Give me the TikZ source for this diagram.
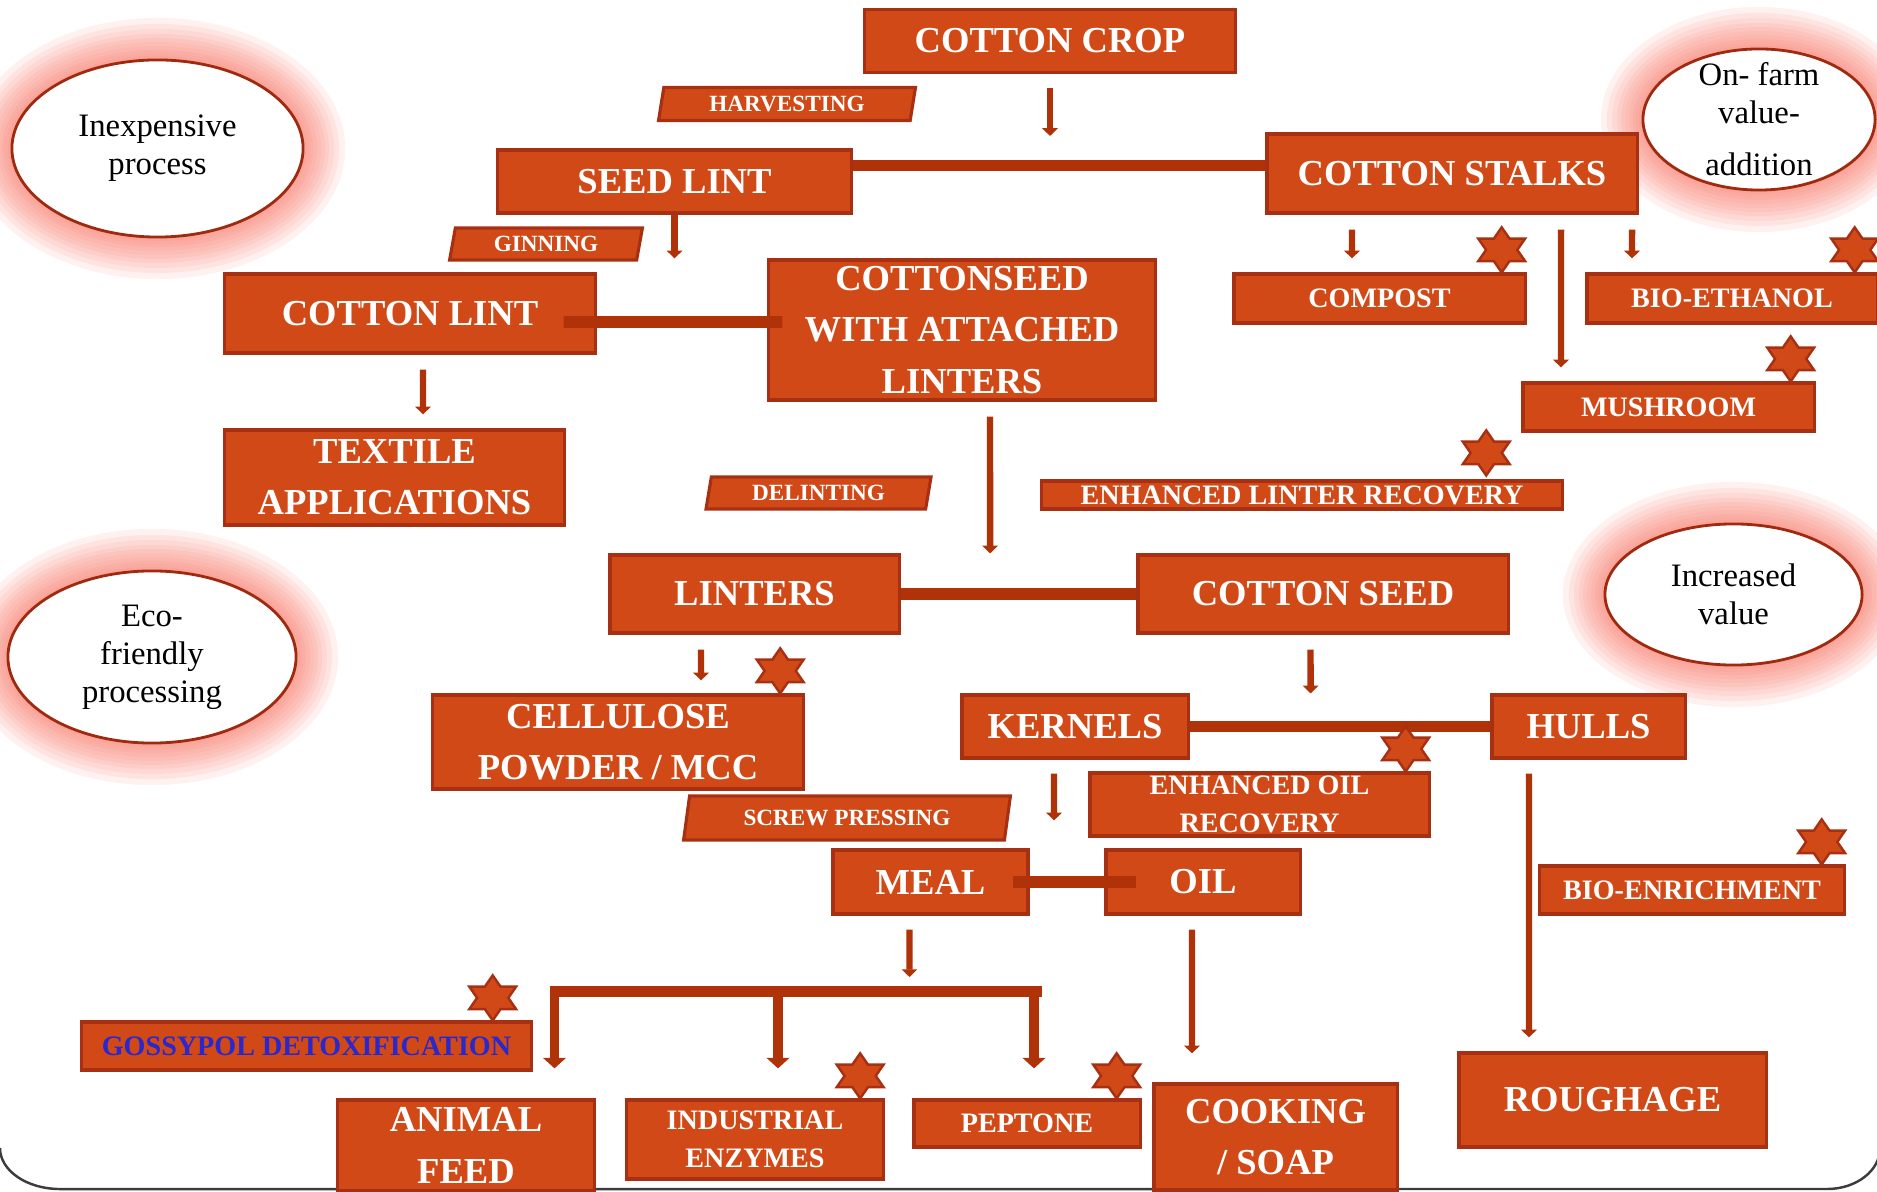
\documentclass[tikz,border=0pt]{standalone}
\usepackage{fontspec}
\setmainfont{Liberation Serif}
\usetikzlibrary{arrows.meta,shapes.geometric,positioning}

\definecolor{boxfill}{RGB}{210,73,24}
\definecolor{boxedge}{RGB}{168,48,18}
\definecolor{linkred}{RGB}{176,50,8}
\definecolor{bubbleedge}{RGB}{160,42,16}
\definecolor{halopink}{RGB}{247,124,109}
\definecolor{gossyblue}{RGB}{40,40,205}
\definecolor{framegray}{RGB}{60,60,60}

% soft pink glow behind a bubble: centre x, centre y, x radius, y radius (px)
\newcommand{\glowring}[4]{%
  \foreach \d in {42,36,31,26,22,18,14,10,7,4}{%
    \pgfmathsetmacro{\hrx}{(#3+\d)/100}%
    \pgfmathsetmacro{\hry}{(#4+\d)/100}%
    \fill[halopink,opacity=0.11] (#1,#2) ellipse ({\hrx cm} and {\hry cm});%
  }}

\begin{document}
\begin{tikzpicture}[
    x=0.01cm,y=-0.01cm,
    bigbox/.style={rectangle,draw=boxedge,fill=boxfill,line width=0.9pt,text=white,inner sep=0pt,align=center,font=\bfseries\fontsize{10.4pt}{14.6pt}\selectfont},
    midbox/.style={bigbox,font=\bfseries\fontsize{8pt}{10.8pt}\selectfont},
    stepbox/.style={trapezium,trapezium left angle=78,trapezium right angle=102,trapezium stretches=true,draw=boxedge,fill=boxfill,line width=0.9pt,text=white,inner sep=0pt,font=\bfseries\fontsize{6.6pt}{8pt}\selectfont},
    bubble/.style={ellipse,draw=bubbleedge,fill=white,line width=0.8pt,inner sep=-12pt,align=center,font=\fontsize{9.3pt}{10.8pt}\selectfont},
    bar/.style={draw=linkred,line width=3.4pt},
    arrow/.style={draw=linkred,line width=1.8pt,-{Triangle[width=4.4pt,length=2.2pt]}},
    branch/.style={draw=linkred,line width=2.6pt,-{Triangle[width=6.4pt,length=3pt]}},
    hexstar/.pic={
        \filldraw[fill=boxfill,draw=boxedge,line width=0.7pt,xscale=1.2,shift={(0,0.225cm)}]
            (90:0.225cm) \foreach \a in {60,0,-60,-120,-180,-240}{ -- ({\a}:0.13cm) -- ({\a-30}:0.225cm) } -- cycle;
    }
]
    \useasboundingbox (0,0) rectangle (1877,1192);
    \clip (0,0) rectangle (1877,1192);

    % Glowing bubbles
    \glowring{157.5}{148.5}{145.5}{88.5}
    \glowring{1759}{119.5}{116}{70.5}
    \glowring{152}{657}{144}{86}
    \glowring{1733.5}{594.5}{128.5}{70.5}
    \node[bubble,minimum width=2.91cm,minimum height=1.77cm] (cheap) at (157.5,148.5) {Inexpensive\\process};
    \node[bubble,minimum width=2.32cm,minimum height=1.41cm] (onfarm) at (1759,119.5) {On- farm\\value-\\[4pt]addition};
    \node[bubble,minimum width=2.88cm,minimum height=1.72cm] (eco) at (152,657) {Eco-\\friendly\\processing};
    \node[bubble,minimum width=2.57cm,minimum height=1.41cm] (gain) at (1733.5,594.5) {Increased\\value};

    % Slide frame
    \draw[framegray,line width=0.7pt] (0,1148) arc[start angle=180,end angle=270,x radius=0.6cm,y radius=0.41cm]
        -- (1827,1189) arc[start angle=270,end angle=360,x radius=0.53cm,y radius=0.41cm];

    % Top: crop and first split
    \node[bigbox,minimum width=3.70cm,minimum height=0.63cm] (crop) at (1050,41) {COTTON CROP};
    \node[stepbox,minimum width=2.57cm,minimum height=0.33cm] (harvest) at (787,104) {HARVESTING};
    \node[bigbox,minimum width=3.53cm,minimum height=0.63cm] (seedlint) at (674.5,181.5) {SEED LINT};
    \node[bigbox,minimum width=3.70cm,minimum height=0.79cm] (stalks) at (1452,173.5) {COTTON STALKS};

    % Stalk products
    \node[midbox,minimum width=2.91cm,minimum height=0.49cm] (compost) at (1379.5,298.5) {COMPOST};
    \node[midbox,minimum width=2.90cm,minimum height=0.49cm] (bioeth) at (1732,298.5) {BIO-ETHANOL};
    \node[midbox,minimum width=2.91cm,minimum height=0.48cm] (mushroom) at (1668.5,407) {MUSHROOM};

    % Ginning
    \node[stepbox,minimum width=1.93cm,minimum height=0.32cm] (gin) at (546,244) {GINNING};
    \node[bigbox,minimum width=3.70cm,minimum height=0.79cm] (clint) at (410,313.5) {COTTON LINT};
    \node[bigbox,minimum width=3.86cm,minimum height=1.40cm] (cseed) at (962,330) {COTTONSEED\\WITH ATTACHED\\LINTERS};
    \node[bigbox,minimum width=3.39cm,minimum height=0.95cm] (textile) at (394.5,477.5) {TEXTILE\\APPLICATIONS};

    % Delinting
    \node[stepbox,minimum width=2.25cm,minimum height=0.32cm] (delint) at (818.5,493) {DELINTING};
    \node[midbox,minimum width=5.20cm,minimum height=0.28cm] (linterrec) at (1302,495) {ENHANCED LINTER RECOVERY};
    \node[bigbox,minimum width=2.89cm,minimum height=0.78cm] (linters) at (754.5,594) {LINTERS};
    \node[bigbox,minimum width=3.70cm,minimum height=0.78cm] (cotseed) at (1323,594) {COTTON SEED};
    \node[bigbox,minimum width=3.70cm,minimum height=0.94cm] (cellulose) at (618,742) {CELLULOSE\\POWDER / MCC};

    % Seed split
    \node[bigbox,minimum width=2.26cm,minimum height=0.63cm] (kernels) at (1075,726.5) {KERNELS};
    \node[bigbox,minimum width=1.93cm,minimum height=0.63cm] (hulls) at (1588.5,726.5) {HULLS};
    \node[midbox,minimum width=3.39cm,minimum height=0.63cm] (oilrec) at (1259.5,804.5) {ENHANCED OIL\\RECOVERY};
    \node[stepbox,trapezium left angle=76,trapezium right angle=104,minimum width=3.28cm,minimum height=0.44cm] (screw) at (847,818) {SCREW PRESSING};
    \node[bigbox,minimum width=1.95cm,minimum height=0.64cm] (meal) at (930.5,882) {MEAL};
    \node[bigbox,minimum width=1.94cm,minimum height=0.64cm] (oil) at (1203,882) {OIL};
    \node[midbox,minimum width=3.05cm,minimum height=0.48cm] (bioenr) at (1692,890) {BIO-ENRICHMENT};

    % Bottom row
    \node[midbox,text=gossyblue,minimum width=4.49cm,minimum height=0.48cm] (goss) at (306.5,1046) {GOSSYPOL DETOXIFICATION};
    \node[bigbox,minimum width=2.575cm,minimum height=0.91cm] (feed) at (466,1145.5) {ANIMAL\\FEED};
    \node[midbox,minimum width=2.57cm,minimum height=0.79cm] (enzymes) at (755,1139.5) {INDUSTRIAL\\ENZYMES};
    \node[midbox,minimum width=2.26cm,minimum height=0.47cm] (peptone) at (1027,1123.5) {PEPTONE};
    \node[bigbox,minimum width=2.43cm,minimum height=1.06cm] (cooking) at (1275.5,1137) {COOKING\\/ SOAP};
    \node[bigbox,minimum width=3.07cm,minimum height=0.94cm] (roughage) at (1612.5,1100) {ROUGHAGE};

    % Joining bars
    \coordinate (seedjoin) at ([yshift=0.16cm]seedlint.east);
    \draw[bar] (seedjoin) -- (seedjoin -| stalks.west);
    \coordinate (lintjoin) at ([xshift=-0.33cm,yshift=-0.085cm]clint.east);
    \draw[bar] (lintjoin) -- ([xshift=0.15cm,yshift=0.08cm]cseed.west);
    \draw[bar] (linters.east) -- (cotseed.west);
    \draw[bar] (kernels.east) -- (hulls.west);
    \draw[bar] ([xshift=-0.17cm]meal.east) -- ([xshift=0.32cm]oil.west);

    % Meal fork
    \coordinate (forkleft) at (554.5,991.5);
    \coordinate (forkcentre) at (778,991.5);
    \coordinate (forkright) at (1034,991.5);
    \coordinate (forkmid) at (909.5,991.5);
    \draw[bar] ([xshift=-0.05cm]forkleft) -- ([xshift=0.08cm]forkright);
    \draw[branch,shorten >=0.3cm] (forkleft) -- (forkleft |- feed.north);
    \draw[branch,shorten >=0.3cm] (forkcentre) -- (forkcentre |- enzymes.north);
    \draw[branch,shorten >=0.3cm] (forkright) -- (forkright |- peptone.north);

    % Flow arrows
    \draw[arrow,shorten <=0.14cm,shorten >=0.295cm] (crop.south) -- (crop.south |- seedjoin);
    \draw[arrow] (seedlint.south) -- (seedlint.south |- cseed.north);
    \draw[arrow,shorten <=0.15cm,shorten >=0.14cm] ([xshift=0.13cm]clint.south) -- ([xshift=0.285cm]textile.north);
    \draw[arrow,shorten <=0.15cm] ([xshift=0.28cm]cseed.south) -- ([xshift=0.894cm]linters.north east);
    \draw[arrow,shorten <=0.15cm,shorten >=0.14cm] ([xshift=-1cm]stalks.south) -- ([xshift=-0.275cm]compost.north);
    \draw[arrow,shorten <=0.15cm,shorten >=0.14cm] ([xshift=1.09cm]stalks.south) -- ([xshift=-1.075cm]mushroom.north);
    \draw[arrow,shorten <=0.15cm,shorten >=0.14cm] ([xshift=1.8cm]stalks.south) -- ([xshift=-1cm]bioeth.north);
    \draw[arrow,shorten <=0.15cm,shorten >=0.13cm] ([xshift=-0.535cm]linters.south) -- ([xshift=0.83cm]cellulose.north);
    \draw[arrow,shorten <=0.15cm] ([xshift=-0.125cm]cotseed.south) -- ([xshift=1.209cm]kernels.north east);
    \draw[arrow,shorten <=0.14cm,shorten >=0.28cm] ([xshift=-0.21cm]kernels.south) -- ([xshift=0.244cm]meal.north east);
    \draw[arrow,shorten <=0.14cm,shorten >=0.14cm] ([xshift=-0.595cm]hulls.south) -- ([xshift=-0.835cm]roughage.north);
    \draw[arrow,shorten <=0.14cm,shorten >=0.145cm] ([xshift=-0.21cm]meal.south) -- (forkmid);
    \draw[arrow,shorten <=0.14cm,shorten >=0.29cm] ([xshift=-0.11cm]oil.south) -- ([xshift=-0.835cm]cooking.north);

    % Value-addition stars
    \pic (compoststar) at ([xshift=-0.25cm]compost.north east) {hexstar};
    \pic (bioethstar) at ([xshift=-0.24cm]bioeth.north east) {hexstar};
    \pic (mushstar) at ([xshift=-0.25cm]mushroom.north east) {hexstar};
    \pic (linterstar) at ([xshift=-0.775cm,yshift=0.04cm]linterrec.north east) {hexstar};
    \pic (cellstar) at ([xshift=-0.245cm]cellulose.north east) {hexstar};
    \pic (oilstar) at ([xshift=-0.25cm]oilrec.north east) {hexstar};
    \pic (enrichstar) at ([xshift=-0.245cm]bioenr.north east) {hexstar};
    \pic (gossstar) at ([xshift=-0.40cm]goss.north east) {hexstar};
    \pic (enzstar) at ([xshift=-0.25cm]enzymes.north east) {hexstar};
    \pic (pepstar) at ([xshift=-0.25cm]peptone.north east) {hexstar};
\end{tikzpicture}
\end{document}
